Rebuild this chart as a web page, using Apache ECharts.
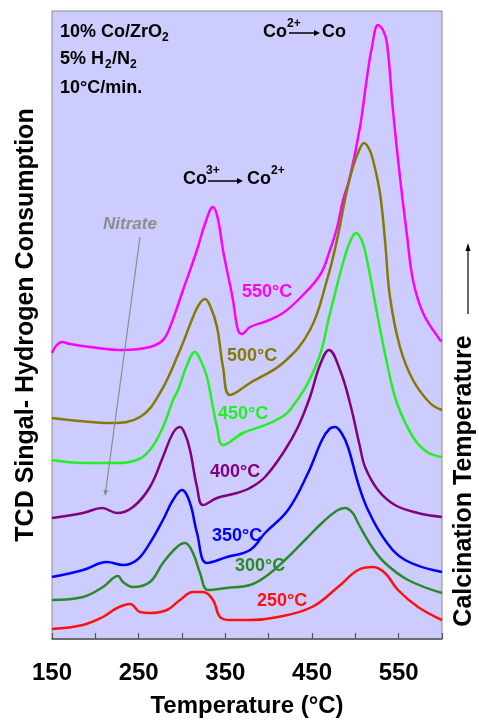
<!DOCTYPE html>
<html><head><meta charset="utf-8">
<script src="https://cdn.jsdelivr.net/npm/echarts@6/dist/echarts.min.js"></script>
<style>html,body{margin:0;padding:0;background:#fff}#c{width:479px;height:723px}</style>
</head><body><div id="c"></div>
<script>
// x tick labels
const xTickLabels = [150, 250, 350, 450, 550];
// Calcination temperatures (series names)
const calcTemps = ['550°C', '500°C', '450°C', '400°C', '350°C', '300°C', '250°C'];

// 550 °C
const T550 = [150,154.6,161.5,170.8,193.8,231.9,263.1,278.1,286.2,301.2,317.3,326.5,335.8,341.5,347.3,358.8,364.6,369.2,378.5,398.1,416.5,436.2,459.2,470.8,478.8,485.8,493.8,505.4,513.5,519.2,526.2,531.9,536.5,543.4,551.5,559.6,566.5,578.1,597.7,600];
const Y550 = [286,293,297,295,292,289,292,299,312,349,389,415,432,420,389,339,309,305,312,318,326,341,364,389,411,439,462,512,562,592,614,609,596,529,462,404,359,326,299,298];
// 500 °C
const T500 = [150,182,217,251.5,274.6,297.7,312.7,320,326.5,333,340.4,347.3,355.4,378.5,416.5,447.7,467.3,478.8,490.4,497.3,504,510,516,520.4,528.4,534.2,540,551.5,566.5,586.1,600];
const Y500 = [221,218,216,222,246,289,322,335,340,332,312,272,244,256,276,309,359,399,449,472,488,496,490,479,446,399,342,292,259,236,229];
// 450 °C
const T450 = [150,185.8,225,248,263.1,278.1,289.6,295.4,305.8,315,320.8,328.8,334.6,340.4,347.3,370.4,401.5,424.6,455.8,470.8,485.8,493.8,500.8,507.7,513.5,525,536.5,548,566.5,582.7,600];
const Y450 = [179,176,176,179,189,212,239,249,274,287,280,262,237,212,194,206,216,229,276,326,376,397,406,398,379,326,276,236,202,187,182];
// 400 °C
const T400 = [150,185.8,207.7,225,243.5,263,278,289.6,297.7,303.5,309.2,317.3,324.2,340.4,363.5,378.5,395.8,418.8,433.8,447.7,459.2,469.6,482.3,493.8,505.4,511.2,526.1,545.7,572.3,600];
const Y400 = [121,126,131,126,132,152,182,206,212,205,189,152,134,141,146,151,162,189,212,242,274,289,269,236,192,172,149,134,126,122];
// 350 °C
const T350 = [150,185.8,213.5,231.9,248,263,278,289.6,300,309.2,317.3,328.8,351.9,378.5,395.8,422.3,445.4,461.5,470,476.5,484,491.5,503.1,514.6,534.2,557.3,600];
const Y350 = [62,69,77,74,79,96,119,139,149,136,106,76,82,89,106,129,166,199,210,212,206,192,156,129,99,79,67];
// 300 °C
const T300 = [150,185.8,208.8,226.2,231.9,243.5,263,278,294.2,303.5,312.7,320.8,330,351.9,378.5,395.8,418.8,441.9,461.5,478,488,497,503.1,519.2,534.2,560.8,600];
const Y300 = [39,42,52,63,57,52,57,76,92,96,86,66,49,51,54,62,79,99,116,128,131,126,116,92,76,59,46];
// 250 °C
const T250 = [150,185.8,208.8,225,240,251.5,263,282.7,297.7,312.7,324.2,335.8,343.8,355.4,378.5,410.8,450,480,503.1,520.4,534.2,549.2,572.3,600];
const Y250 = [10,14,22,31,35,27,26,29,39,47,47,39,22,19,19,22,32,52,69,72,66,49,32,19];

const colors = ['#FF00FF', '#857A00', '#22F022', '#800080', '#0000FF', '#2A8A2A', '#FF1010'];
const Ts = [T550, T500, T450, T400, T350, T300, T250];
const Ys = [Y550, Y500, Y450, Y400, Y350, Y300, Y250];

const FONT = '"Liberation Sans", Arial, sans-serif';
function txt(x, y, s, size, color, extra, style) {
  return Object.assign({type: 'text', x: x, y: y, z: 100,
    style: Object.assign({text: s, font: 'bold ' + size + 'px ' + FONT, fill: color,
      textAlign: 'left', textVerticalAlign: 'middle'}, style || {})}, extra || {});
}
function arrow(x1, y1, x2, y2, color, w, hl, hw) {
  const dx = x2 - x1, dy = y2 - y1, L = Math.sqrt(dx * dx + dy * dy);
  const ux = dx / L, uy = dy / L;
  const bx = x2 - ux * hl, by = y2 - uy * hl;
  return [
    {type: 'line', z: 100, shape: {x1: x1, y1: y1, x2: bx, y2: by}, style: {stroke: color, lineWidth: w}},
    {type: 'polygon', z: 100, shape: {points: [[x2, y2], [bx - uy * hw, by + ux * hw], [bx + uy * hw, by - ux * hw]]}, style: {fill: color}}
  ];
}

// label positions (left x, middle y)
const labelPos = [[242, 292], [227, 356], [218, 414], [210, 472], [212, 536], [235, 566], [257, 601]];

const graphics = [];
calcTemps.forEach((n, i) => graphics.push(txt(labelPos[i][0], labelPos[i][1], n, 18, colors[i])));
// top-left conditions
graphics.push(txt(60, 32, '10% Co/ZrO', 18, '#000'));
graphics.push(txt(162, 38, '2', 12, '#000'));
graphics.push(txt(60, 59, '5% H', 18, '#000'));
graphics.push(txt(105, 65, '2', 12, '#000'));
graphics.push(txt(112, 59, '/N', 18, '#000'));
graphics.push(txt(130, 65, '2', 12, '#000'));
graphics.push(txt(60, 88, '10°C/min.', 18, '#000'));
// Co2+ -> Co
graphics.push(txt(263, 32, 'Co', 18, '#000'));
graphics.push(txt(287, 24, '2+', 12, '#000'));
graphics.push(...arrow(289, 33, 320, 33, '#000', 1.5, 6, 3));
graphics.push(txt(322, 32, 'Co', 18, '#000'));
// Co3+ -> Co2+
graphics.push(txt(183, 179, 'Co', 18, '#000'));
graphics.push(txt(206, 171, '3+', 12, '#000'));
graphics.push(...arrow(208, 181, 243, 181, '#000', 1.5, 6, 3));
graphics.push(txt(247, 179, 'Co', 18, '#000'));
graphics.push(txt(271, 171, '2+', 12, '#000'));
// Nitrate
graphics.push(txt(103, 224, 'Nitrate', 17, '#8C8C8C', null, {font: 'italic bold 17px ' + FONT}));
graphics.push(...arrow(140, 237, 105, 496, '#8C8C8C', 1.2, 6, 2.5));
// axis titles
graphics.push(txt(26, 325, 'TCD Singal- Hydrogen Consumption', 25, '#000', {rotation: Math.PI / 2}, {textAlign: 'center'}));
graphics.push(txt(464, 481, 'Calcination Temperature', 25, '#000', {rotation: Math.PI / 2}, {textAlign: 'center'}));
graphics.push(...arrow(468, 314, 468, 243, '#000', 1.2, 8, 2.5));

const chart = echarts.init(document.getElementById('c'), null, {renderer: 'canvas'});
chart.setOption({
  backgroundColor: '#FFFFFF',
  animation: false,
  grid: {left: 52, right: 37, top: 11, bottom: 84, show: true, backgroundColor: '#CCCCFF',
         borderColor: '#8A8A8A', borderWidth: 1, outerBoundsMode: 'none'},
  xAxis: {
    type: 'value', min: 150, max: 600, interval: 50,
    axisLine: {show: true, onZero: false, lineStyle: {color: '#555', width: 1.5}},
    axisTick: {show: true, inside: true, length: 6, lineStyle: {color: '#555', width: 1.2}},
    splitLine: {show: false},
    axisLabel: {margin: 22, color: '#000', fontSize: 24, fontWeight: 'bold', fontFamily: FONT,
      formatter: v => xTickLabels.indexOf(v) >= 0 ? String(v) : ''},
    name: 'Temperature (°C)', nameLocation: 'middle', nameGap: 55,
    nameTextStyle: {color: '#000', fontSize: 24, fontWeight: 'bold', fontFamily: FONT}
  },
  yAxis: {
    type: 'value', min: 0, max: 628,
    axisLine: {show: false}, axisTick: {show: false}, axisLabel: {show: false}, splitLine: {show: false}
  },
  series: calcTemps.map((n, i) => ({
    name: n, type: 'line', showSymbol: false, smooth: 0.4,
    lineStyle: {color: colors[i], width: 2.5, join: 'round'}, itemStyle: {color: colors[i]},
    data: Ts[i].map((t, k) => [t, Ys[i][k]])
  })),
  graphic: graphics
});
</script>
</body></html>
